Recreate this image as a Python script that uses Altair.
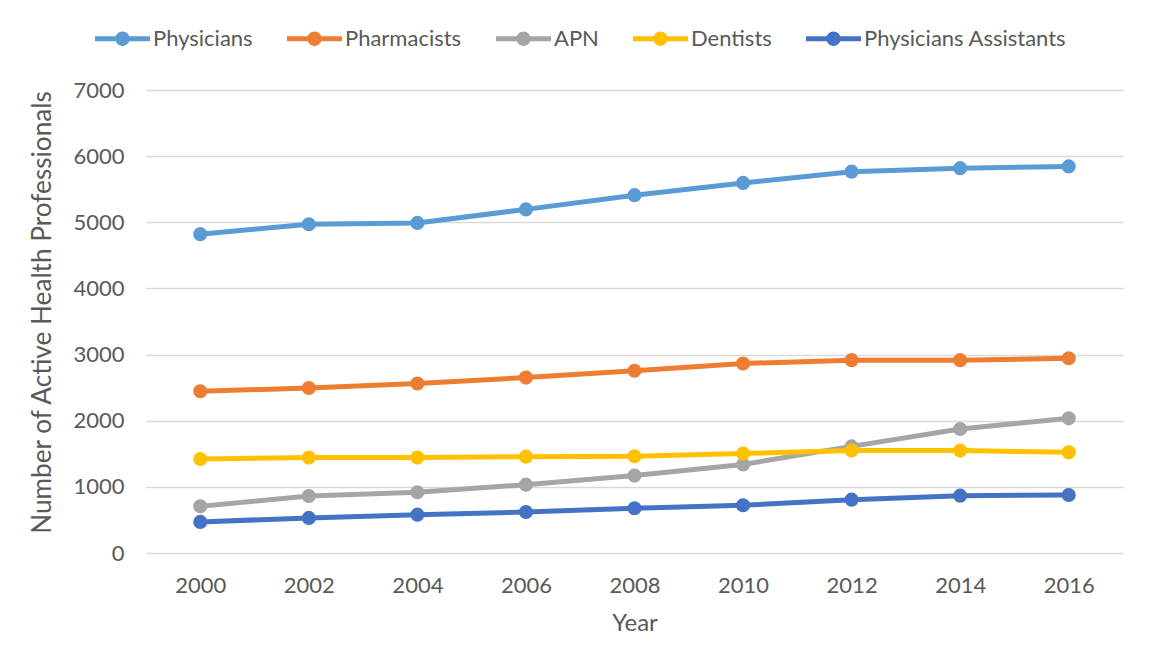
import altair as alt
import pandas as pd

years = [2000, 2002, 2004, 2006, 2008, 2010, 2012, 2014, 2016]
series = ["Physicians", "Pharmacists", "APN", "Dentists", "Physicians Assistants"]
colors = ["#5B9BD5", "#ED7D31", "#A5A5A5", "#FFC000", "#4472C4"]

physicians = [4820, 4970, 4990, 5195, 5410, 5595, 5765, 5818, 5845]
pharmacists = [2445, 2495, 2562, 2652, 2755, 2865, 2915, 2915, 2945]
apn = [705, 862, 918, 1033, 1170, 1338, 1612, 1875, 2036]
dentists = [1421, 1442, 1442, 1457, 1461, 1505, 1548, 1548, 1522]
pas = [470, 530, 580, 620, 676, 722, 806, 867, 877]

values = [physicians, pharmacists, apn, dentists, pas]
rows = []
for s, vals in zip(series, values):
    for y, v in zip(years, vals):
        rows.append({"Year": str(y), "Series": s, "Value": v, "order": series.index(s)})
df = pd.DataFrame(rows)

FONT = "Lato"
TXT = "#595959"

sym = ("M-1,-0.09 L1,-0.09 L1,0.09 L-1,0.09 Z "
       "M0.26,0 A0.26,0.26 0 1 1 -0.26,0 A0.26,0.26 0 1 1 0.26,0 Z")

x = alt.X(
    "Year:O",
    scale=alt.Scale(type="point", padding=0.5),
    axis=alt.Axis(title="Year", labelAngle=0, domain=False, ticks=False,
                  labelPadding=22, titlePadding=15),
)
y = alt.Y(
    "Value:Q",
    scale=alt.Scale(domain=[0, 7000]),
    axis=alt.Axis(title="Number of Active Health Professionals", values=list(range(0, 7001, 1000)),
                  format="d", domain=False, ticks=False, labelPadding=22, titlePadding=16,
                  titleY=222, gridColor="#D9D9D9", gridWidth=1.3),
)

lines = alt.Chart(df).mark_line(strokeWidth=5).encode(
    x=x, y=y,
    color=alt.Color("Series:N", scale=alt.Scale(domain=series, range=colors), legend=None),
    detail="Series:N",
    order="order:Q",
)

points = alt.Chart(df).mark_point(filled=True, size=200, opacity=1).encode(
    x=x, y=y,
    color=alt.Color(
        "Series:N",
        scale=alt.Scale(domain=series, range=colors),
        sort=series,
        legend=alt.Legend(
            title=None, orient="none", direction="horizontal",
            legendX=-51, legendY=-79,
            symbolType=sym, symbolSize=3025, symbolStrokeWidth=0,
            labelFont=FONT, labelFontSize=22, labelColor=TXT,
            labelOffset=3, columnPadding=34, labelLimit=400,
        ),
    ),
)

chart = (
    alt.layer(lines, points)
    .resolve_legend(color="independent")
    .properties(
        width=977,
        height=463,
        autosize=alt.AutoSizeParams(type="none"),
        padding={"left": 138, "top": 82, "right": 10, "bottom": 100},
        background="white",
    )
    .configure_view(stroke=None)
    .configure_axis(
        labelFont=FONT, labelFontSize=22, labelColor=TXT,
        titleFont=FONT, titleFontSize=24, titleColor=TXT, titleFontWeight="normal",
    )
    .configure_axisY(titleFontSize=26.2)
    .configure_axisX(grid=False)
)

chart.save("out.html", embed_options={"renderer": "svg", "actions": False})
